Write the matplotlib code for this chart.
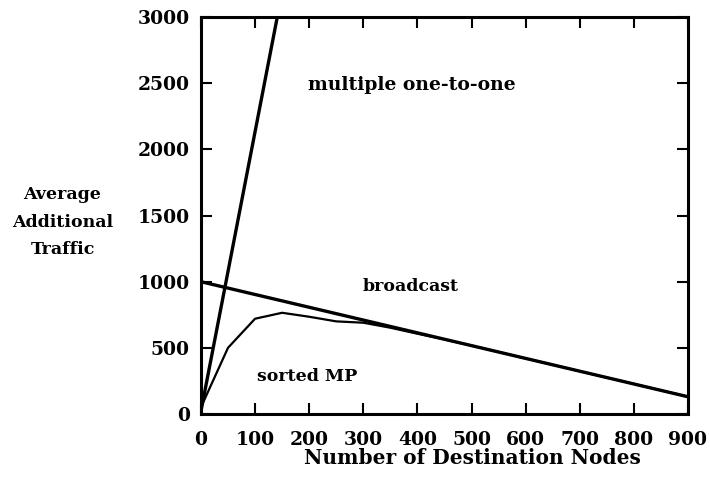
import matplotlib
matplotlib.use('Agg')
import matplotlib.pyplot as plt

# data
nodes_multi = [0, 150]
traffic_multi = [20, 3190]

nodes_bcast = [0, 900]
traffic_bcast = [1000, 130]

nodes_sorted = [0, 50, 100, 150, 200, 250, 300, 350, 400, 450, 500, 600, 700, 800, 900]
traffic_sorted = [50, 500, 720, 765, 735, 700, 690, 652, 607, 563, 517, 420, 323, 227, 130]

xticks = [0, 100, 200, 300, 400, 500, 600, 700, 800, 900]
yticks = [0, 500, 1000, 1500, 2000, 2500, 3000]

plt.rcParams['font.family'] = ['DejaVu Serif']

fig = plt.figure(figsize=(7.1, 4.78), dpi=100)
ax = fig.add_axes([0.283, 0.134, 0.686, 0.830])

ax.plot(nodes_multi, traffic_multi, color='black', lw=2.4, solid_capstyle='butt')
ax.plot(nodes_bcast, traffic_bcast, color='black', lw=2.4, solid_capstyle='butt')
ax.plot(nodes_sorted, traffic_sorted, color='black', lw=1.6)

ax.set_xlim(0, 900)
ax.set_ylim(0, 3000)
ax.set_xticks(xticks)
ax.set_yticks(yticks)
ax.tick_params(direction='in', length=8, width=1.5, top=True, right=True,
               labelsize=13.5)
ax.tick_params(axis='x', pad=12)
ax.tick_params(axis='y', pad=8)
for lab in ax.get_xticklabels() + ax.get_yticklabels():
    lab.set_fontweight('bold')
for sp in ax.spines.values():
    sp.set_linewidth(2.2)

ax.text(198, 2490, 'multiple one-to-one', fontsize=13.5, fontweight='bold',
        va='center', ha='left')
ax.text(298, 960, 'broadcast', fontsize=12.5, fontweight='bold', va='center', ha='left')
ax.text(103, 280, 'sorted MP', fontsize=12.5, fontweight='bold', va='center', ha='left')

ax.set_xlabel('Number of Destination Nodes', fontsize=14.5, fontweight='bold')
ax.xaxis.set_label_coords(0.558, -0.085)
fig.text(0.088, 0.535, 'Average\nAdditional\nTraffic', fontsize=12.5, fontweight='bold',
         ha='center', va='center', linespacing=1.8)

fig.savefig('out.png', dpi=100)
